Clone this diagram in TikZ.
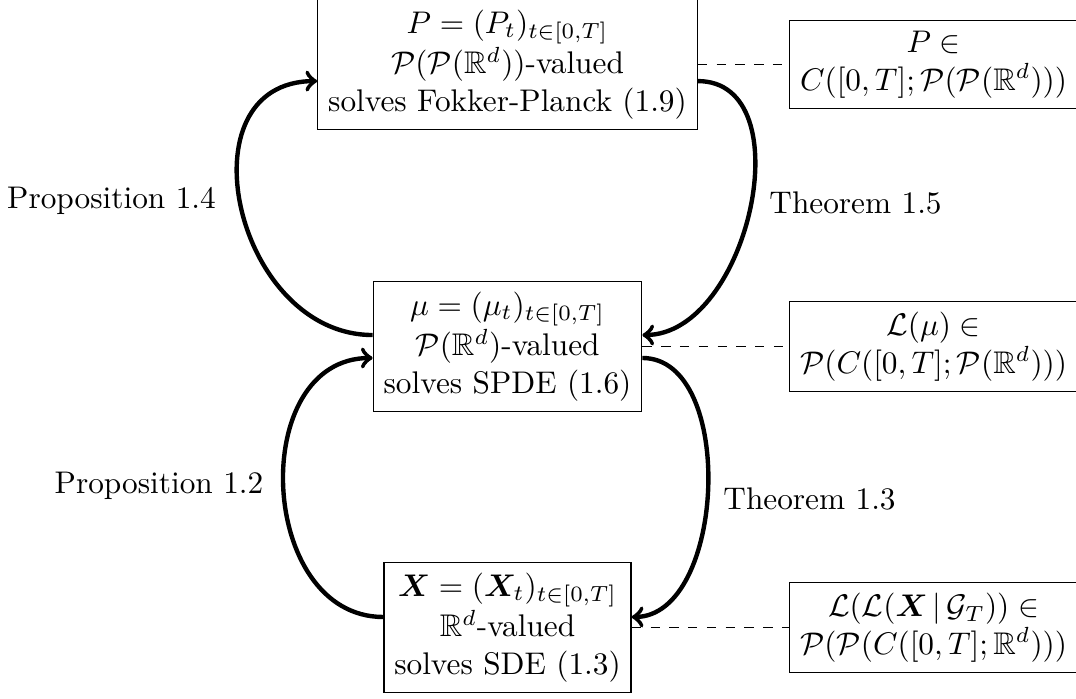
\documentclass[tikz,border=0pt]{standalone}
\usepackage{amsmath,amssymb,bm}
\begin{document}
\begin{tikzpicture}[x=0.3195pt,y=-0.3195pt,
  box/.style={draw, align=center, inner sep=3.33pt},
  side/.style={box, minimum width=90.5pt},
  conn/.style={->, line width=1.4pt},
  link/.style={dashed, thin},
  lbl/.style={inner sep=0pt}]
\useasboundingbox (0,0) rectangle (1076,698);
% main boxes
\node[box] (top) at (507.5,64.5) {$P = (P_t)_{t\in[0,T]}$\\ $\mathcal{P}(\mathcal{P}(\mathbb{R}^d))$-valued\\ solves Fokker-Planck (1.9)};
\node[box] (mid) at (507.5,346.5) {$\mu = (\mu_t)_{t\in[0,T]}$\\ $\mathcal{P}(\mathbb{R}^d)$-valued\\ solves SPDE (1.6)};
\node[box] (bot) at (507.5,627.5) {$\bm{X} = (\bm{X}_t)_{t\in[0,T]}$\\ $\mathbb{R}^d$-valued\\ solves SDE (1.3)};
% side boxes
\node[side] (r1) at (933.5,64.5) {$P \in$\\ $C([0,T];\mathcal{P}(\mathcal{P}(\mathbb{R}^d)))$};
\node[side] (r2) at (933.5,346.5) {$\mathcal{L}(\mu) \in$\\ $\mathcal{P}(C([0,T];\mathcal{P}(\mathbb{R}^d)))$};
\node[side] (r3) at (933.5,627.5) {$\mathcal{L}(\mathcal{L}(\bm{X} \,|\, \mathcal{G}_T)) \in$\\ $\mathcal{P}(\mathcal{P}(C([0,T];\mathbb{R}^d)))$};
% dashed links
\draw[link] (top.east) -- (r1.west);
\draw[link] (mid.east) -- (r2.west);
\draw[link] (bot.east) -- (r3.west);
% arrows
\draw[conn] ([yshift=3.67pt]mid.west) to[out=180,in=180,looseness=1.36] ([yshift=-5.3pt]top.west);
\draw[conn] ([yshift=-5.3pt]top.east) to[out=0,in=0,looseness=1.05] ([yshift=3.67pt]mid.east);
\draw[conn] ([yshift=3.36pt]bot.west) to[out=180,in=180,looseness=1.24] ([yshift=-3.67pt]mid.west);
\draw[conn] ([yshift=-3.67pt]mid.east) to[out=0,in=0,looseness=0.93] ([yshift=3.36pt]bot.east);
% labels
\node (p14) at (111.5,200.5) {Proposition 1.4};
\node (t15) at (855.5,202.5) {Theorem 1.5};
\node (p12) at (159,485.5) {Proposition 1.2};
\node (t13) at (809.5,499) {Theorem 1.3};
\end{tikzpicture}
\end{document}
